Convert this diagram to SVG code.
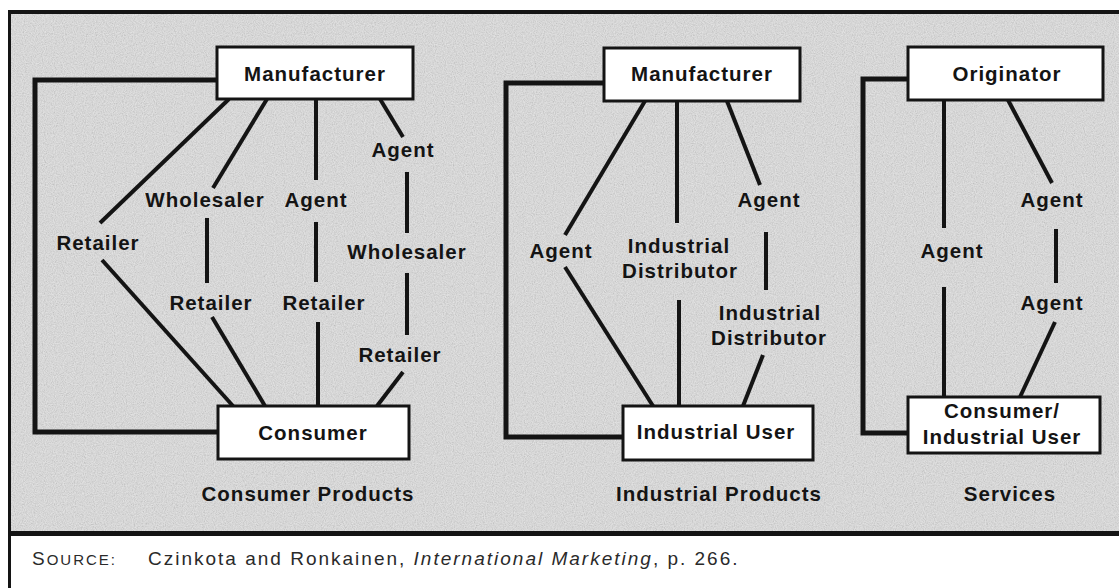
<svg xmlns="http://www.w3.org/2000/svg" width="1119" height="588" viewBox="0 0 1119 588">
<style>
.lbl{font-family:"Liberation Sans",Arial,sans-serif;font-weight:bold;font-size:20.5px;letter-spacing:1px;fill:#141414;text-anchor:middle}
.box{fill:#ffffff;stroke:#141414;stroke-width:3}
.ln{stroke:#141414;stroke-width:4;fill:none;stroke-linecap:butt}
.loop{stroke:#141414;stroke-width:5;fill:none;stroke-linejoin:miter}
.src{font-family:"Liberation Sans",Arial,sans-serif;font-size:19px;letter-spacing:2px;fill:#2a2a2a}
</style>
<defs>
<filter id="grain" x="0" y="0" width="100%" height="100%">
<feTurbulence type="fractalNoise" baseFrequency="0.9" numOctaves="2" seed="3" result="n"/>
<feColorMatrix in="n" type="matrix" values="1 0 0 0 0  1 0 0 0 0  1 0 0 0 0  0 0 0 0 1"/>
</filter>
</defs>
<rect x="0" y="0" width="1119" height="588" fill="#ffffff"/>
<g id="frame">
<rect x="10" y="12" width="1109" height="521" fill="#e0e0e0"/>
<rect x="10" y="12" width="1109" height="521" fill="#ffffff" filter="url(#grain)" opacity="0.25"/>
<line x1="8" y1="12" x2="1119" y2="12" stroke="#141414" stroke-width="4"/>
<line x1="9.5" y1="10" x2="9.5" y2="588" stroke="#141414" stroke-width="3"/>
<line x1="8" y1="533.5" x2="1119" y2="533.5" stroke="#141414" stroke-width="5"/>
</g>
<g id="connectors">
<polyline class="loop" points="217,80 35,80 35,432 218,432"/>
<line class="ln" x1="229" y1="99" x2="100" y2="223"/>
<line class="ln" x1="102" y1="260" x2="233" y2="406"/>
<line class="ln" x1="267" y1="99" x2="213" y2="188"/>
<line class="ln" x1="207" y1="218" x2="207" y2="283"/>
<line class="ln" x1="212" y1="317" x2="265" y2="406"/>
<line class="ln" x1="316" y1="99" x2="316" y2="180"/>
<line class="ln" x1="316" y1="222" x2="316" y2="282"/>
<line class="ln" x1="318" y1="322" x2="318" y2="406"/>
<line class="ln" x1="380" y1="99" x2="403" y2="137"/>
<line class="ln" x1="407" y1="172" x2="407" y2="233"/>
<line class="ln" x1="407" y1="273" x2="407" y2="335"/>
<line class="ln" x1="403" y1="372" x2="377" y2="406"/>
<polyline class="loop" points="604,83 506,83 506,437 623,437"/>
<line class="ln" x1="645" y1="101" x2="565" y2="235"/>
<line class="ln" x1="565" y1="267" x2="653" y2="406"/>
<line class="ln" x1="677" y1="101" x2="677" y2="223"/>
<line class="ln" x1="679" y1="300" x2="679" y2="406"/>
<line class="ln" x1="727" y1="101" x2="760" y2="185"/>
<line class="ln" x1="766" y1="232" x2="766" y2="290"/>
<line class="ln" x1="763" y1="355" x2="743" y2="406"/>
<polyline class="loop" points="908,79 863,79 863,433 908,433"/>
<line class="ln" x1="944" y1="100" x2="944" y2="228"/>
<line class="ln" x1="944" y1="287" x2="944" y2="397"/>
<line class="ln" x1="1008" y1="100" x2="1052" y2="183"/>
<line class="ln" x1="1056" y1="229" x2="1056" y2="283"/>
<line class="ln" x1="1055" y1="322" x2="1020" y2="397"/>
</g>
<g id="consumer-manufacturer"><rect class="box" x="217" y="47" width="196" height="52"/><text class="lbl" x="315" y="81">Manufacturer</text></g>
<g id="consumer-retailer-direct"><text class="lbl" x="98" y="250">Retailer</text></g>
<g id="consumer-wholesaler"><text class="lbl" x="205" y="207">Wholesaler</text></g>
<g id="consumer-retailer-2"><text class="lbl" x="211" y="310">Retailer</text></g>
<g id="consumer-agent"><text class="lbl" x="316" y="207">Agent</text></g>
<g id="consumer-retailer-3"><text class="lbl" x="324" y="310">Retailer</text></g>
<g id="consumer-agent-2"><text class="lbl" x="403" y="157">Agent</text></g>
<g id="consumer-wholesaler-2"><text class="lbl" x="407" y="259">Wholesaler</text></g>
<g id="consumer-retailer-4"><text class="lbl" x="400" y="362">Retailer</text></g>
<g id="consumer"><rect class="box" x="218" y="406" width="191" height="53"/><text class="lbl" x="313" y="440">Consumer</text></g>
<g id="consumer-products-title"><text class="lbl" x="308" y="501">Consumer Products</text></g>
<g id="industrial-manufacturer"><rect class="box" x="604" y="48" width="196" height="53"/><text class="lbl" x="702" y="81">Manufacturer</text></g>
<g id="industrial-agent"><text class="lbl" x="561" y="258">Agent</text></g>
<g id="industrial-distributor"><text class="lbl" x="679" y="253">Industrial</text><text class="lbl" x="680" y="278">Distributor</text></g>
<g id="industrial-agent-2"><text class="lbl" x="769" y="207">Agent</text></g>
<g id="industrial-distributor-2"><text class="lbl" x="770" y="320">Industrial</text><text class="lbl" x="769" y="345">Distributor</text></g>
<g id="industrial-user"><rect class="box" x="623" y="406" width="190" height="54"/><text class="lbl" x="716" y="439">Industrial User</text></g>
<g id="industrial-products-title"><text class="lbl" x="719" y="501">Industrial Products</text></g>
<g id="originator"><rect class="box" x="908" y="47" width="195" height="53"/><text class="lbl" x="1007" y="81">Originator</text></g>
<g id="services-agent"><text class="lbl" x="952" y="258">Agent</text></g>
<g id="services-agent-2"><text class="lbl" x="1052" y="207">Agent</text></g>
<g id="services-agent-3"><text class="lbl" x="1052" y="310">Agent</text></g>
<g id="consumer-industrial-user"><rect class="box" x="908" y="397" width="192" height="56"/><text class="lbl" x="1002" y="418">Consumer/</text><text class="lbl" x="1002" y="444">Industrial User</text></g>
<g id="services-title"><text class="lbl" x="1010" y="501">Services</text></g>
<g id="source">
<text class="src" x="32" y="565">S<tspan font-size="15">OURCE:</tspan></text>
<text class="src" x="148" y="565">Czinkota and Ronkainen, <tspan font-style="italic">International Marketing</tspan>, p. 266.</text>
</g>
</svg>
